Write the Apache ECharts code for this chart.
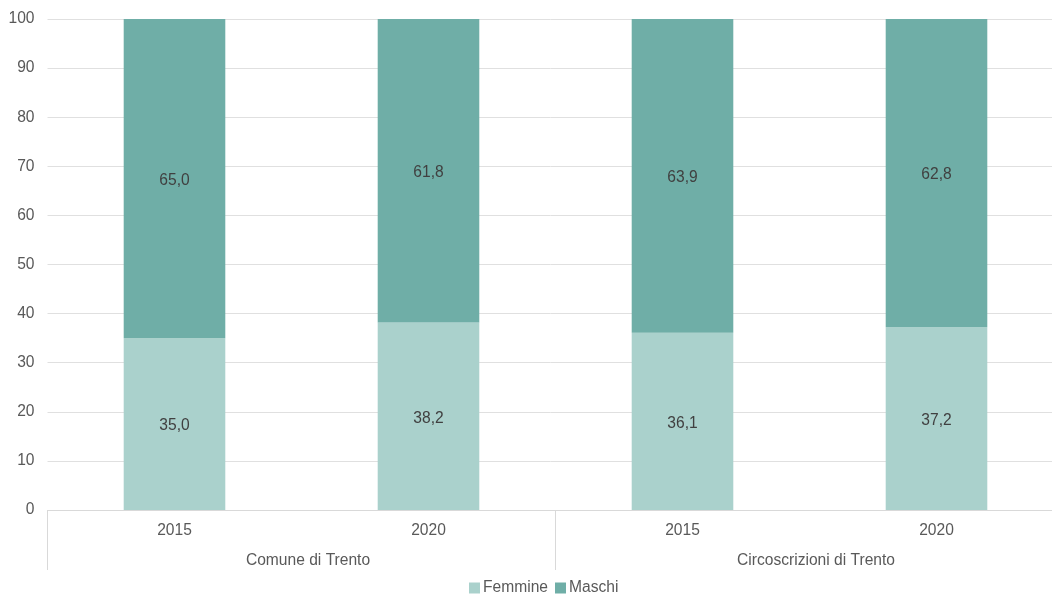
<!DOCTYPE html>
<html>
<head>
<meta charset="utf-8">
<script src="https://cdn.jsdelivr.net/npm/echarts@6/dist/echarts.min.js"></script>
<style>
html,body{margin:0;padding:0;background:#fff;}
#chart{width:1052px;height:594px;}
</style>
</head>
<body>
<div id="chart"></div>
<script>
const years = ['2015', '2020', '2015', '2020'];
const groups = ['Comune di Trento', 'Circoscrizioni di Trento'];
const femmine = [35.0, 38.2, 36.1, 37.2];
const maschi = [65.0, 61.8, 63.9, 62.8];
const seriesNames = ['Femmine', 'Maschi'];
const colors = ['#aad1cc', '#6faea7'];

const FS = 15.6;
const chart = echarts.init(document.getElementById('chart'));
const fmt = p => p.value.toFixed(1).replace('.', ',');
const labelStyle = {
  show: true, position: 'inside', formatter: fmt, offset: [0, 2],
  color: '#404040', fontSize: FS, fontFamily: 'Liberation Sans'
};
chart.setOption({
  animation: false,
  textStyle: { fontFamily: 'Liberation Sans' },
  grid: { left: 47.5, top: 19, right: -11.5, height: 491, containLabel: false, outerBoundsMode: 'none' },
  legend: {
    left: 464, top: 575,
    itemWidth: 11, itemHeight: 11, itemGap: 7,
    icon: 'rect',
    textStyle: { color: '#595959', fontSize: FS, padding: [0, 0, 0, -2] },
    data: seriesNames
  },
  xAxis: [
    {
      type: 'category', data: years, position: 'bottom',
      axisLine: { show: true, lineStyle: { color: '#d9d9d9', width: 1 } },
      axisTick: { show: false },
      axisLabel: { color: '#595959', fontSize: FS, margin: 13 }
    },
    {
      type: 'category', data: groups, position: 'bottom', offset: 0,
      axisLine: { show: false },
      axisTick: { show: true, length: 60, lineStyle: { color: '#d9d9d9', width: 1 } },
      axisLabel: { color: '#595959', fontSize: FS, margin: 43, padding: [0, 0, 0, 13] }
    }
  ],
  yAxis: {
    type: 'value', min: 0, max: 100, interval: 10,
    axisLine: { show: false }, axisTick: { show: false },
    axisLabel: { color: '#595959', fontSize: FS, margin: 13 },
    splitLine: { lineStyle: { color: '#e0e0e0', width: 1 } }
  },
  series: [
    { name: seriesNames[0], type: 'bar', stack: 'tot', data: femmine, barWidth: '40%',
      itemStyle: { color: colors[0] }, label: labelStyle, xAxisIndex: 0 },
    { name: seriesNames[1], type: 'bar', stack: 'tot', data: maschi, barWidth: '40%',
      itemStyle: { color: colors[1] }, label: labelStyle, xAxisIndex: 0 }
  ]
});
</script>
</body>
</html>
